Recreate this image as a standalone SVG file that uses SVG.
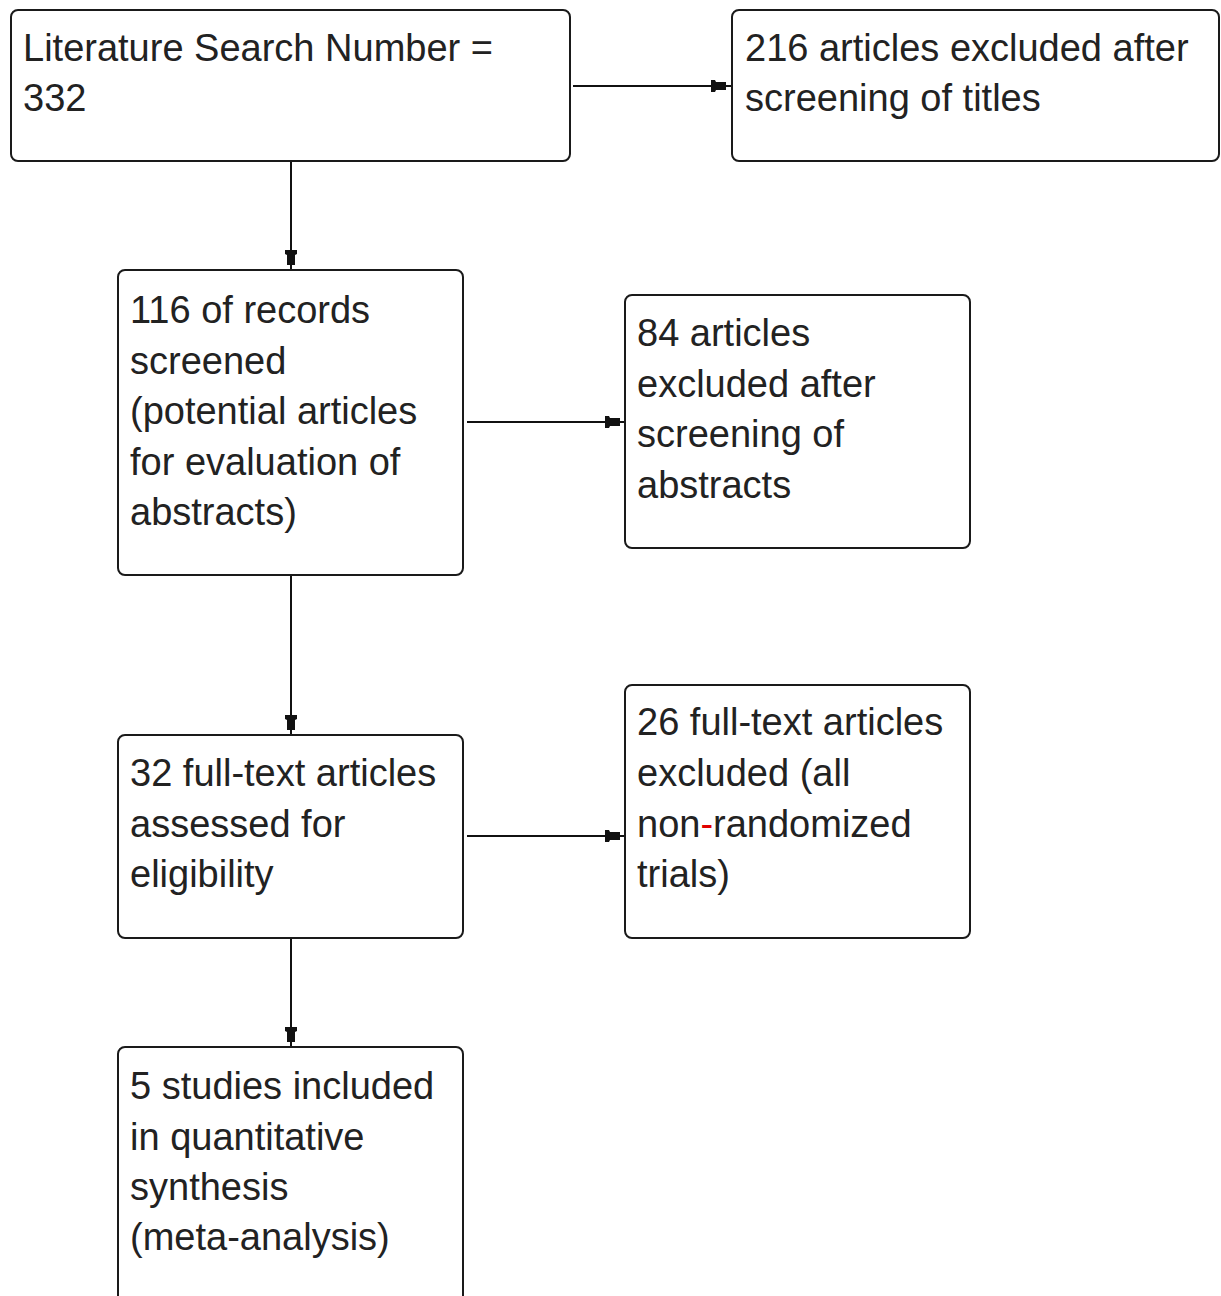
<svg xmlns="http://www.w3.org/2000/svg" width="1221" height="1296" viewBox="0 0 1221 1296">
<style>
.box{fill:#fff;stroke:#1a1a1a;stroke-width:2}
.t{font-family:"Liberation Sans",Arial,sans-serif;font-size:38px;fill:#222}
.c{stroke:#111;stroke-width:2;fill:none;marker-end:url(#ah)}
</style>
<defs>
<marker id="ah" viewBox="0 0 20 14" refX="20" refY="7" markerWidth="20" markerHeight="14" markerUnits="userSpaceOnUse" orient="auto">
<path d="M0,1 L4,1 L5,3 L15,3 L15,11 L5,11 L4,13 L0,13 Z" fill="#111"/>
<path d="M15,7 L20,7" stroke="#111" stroke-width="2"/>
</marker>
</defs>
<rect width="1221" height="1296" fill="#fff"/>
<g id="connectors">
<path class="c" d="M573,86 L731,86"/>
<path class="c" d="M291,161 L291,270"/>
<path class="c" d="M467,422 L625,422"/>
<path class="c" d="M291,575 L291,735"/>
<path class="c" d="M467,836 L625,836"/>
<path class="c" d="M291,938 L291,1047"/>
</g>
<g id="n1">
<rect class="box" x="11" y="10" width="559" height="151" rx="7"/>
<text class="t" x="23" y="61">Literature Search Number =</text>
<text class="t" x="23" y="111">332</text>
</g>
<g id="n2">
<rect class="box" x="732" y="10" width="487" height="151" rx="7"/>
<text class="t" x="745" y="61">216 articles excluded after</text>
<text class="t" x="745" y="111">screening of titles</text>
</g>
<g id="n3">
<rect class="box" x="118" y="270" width="345" height="305" rx="7"/>
<text class="t" x="130" y="323">116 of records</text>
<text class="t" x="130" y="373.5">screened</text>
<text class="t" x="130" y="424">(potential articles</text>
<text class="t" x="130" y="474.5">for evaluation of</text>
<text class="t" x="130" y="525">abstracts)</text>
</g>
<g id="n4">
<rect class="box" x="625" y="295" width="345" height="253" rx="7"/>
<text class="t" x="637" y="346">84 articles</text>
<text class="t" x="637" y="396.5">excluded after</text>
<text class="t" x="637" y="447">screening of</text>
<text class="t" x="637" y="497.5">abstracts</text>
</g>
<g id="n5">
<rect class="box" x="118" y="735" width="345" height="203" rx="7"/>
<text class="t" x="130" y="786">32 full-text articles</text>
<text class="t" x="130" y="836.5">assessed for</text>
<text class="t" x="130" y="887">eligibility</text>
</g>
<g id="n6">
<rect class="box" x="625" y="685" width="345" height="253" rx="7"/>
<text class="t" x="637" y="735">26 full-text articles</text>
<text class="t" x="637" y="786">excluded (all</text>
<text class="t" x="637" y="836.5">non<tspan fill="#e00000">-</tspan>randomized</text>
<text class="t" x="637" y="887">trials)</text>
</g>
<g id="n7">
<rect class="box" x="118" y="1047" width="345" height="280" rx="7"/>
<text class="t" x="130" y="1099">5 studies included</text>
<text class="t" x="130" y="1149.5">in quantitative</text>
<text class="t" x="130" y="1200">synthesis</text>
<text class="t" x="130" y="1250">(meta-analysis)</text>
</g>
</svg>
